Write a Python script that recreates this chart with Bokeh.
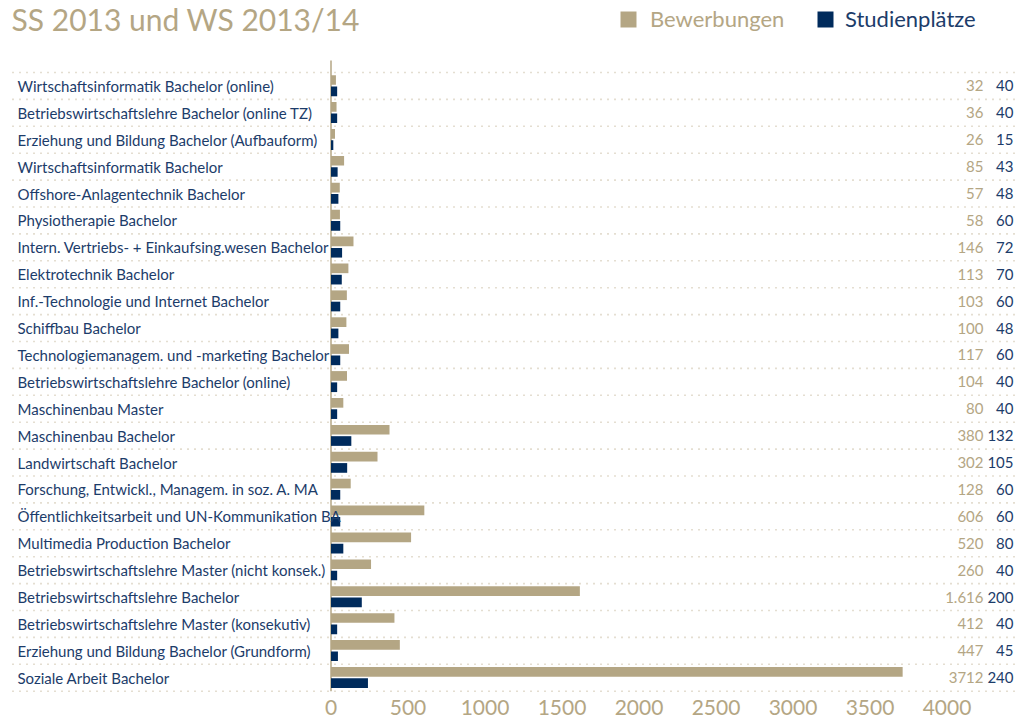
from bokeh.plotting import figure
from bokeh.models import Range1d, FixedTicker, Legend, LegendItem, ColumnDataSource
from bokeh.core.properties import value
from bokeh.transform import dodge
from bokeh.embed import file_html
from bokeh.resources import INLINE

# ---------------- data ----------------
programmes = [
    "Wirtschaftsinformatik Bachelor (online)",
    "Betriebswirtschaftslehre Bachelor (online TZ)",
    "Erziehung und Bildung Bachelor (Aufbauform)",
    "Wirtschaftsinformatik Bachelor",
    "Offshore-Anlagentechnik Bachelor",
    "Physiotherapie Bachelor",
    "Intern. Vertriebs- + Einkaufsing.wesen Bachelor",
    "Elektrotechnik Bachelor",
    "Inf.-Technologie und Internet Bachelor",
    "Schiffbau Bachelor",
    "Technologiemanagem. und -marketing Bachelor",
    "Betriebswirtschaftslehre Bachelor (online)",
    "Maschinenbau Master",
    "Maschinenbau Bachelor",
    "Landwirtschaft Bachelor",
    "Forschung, Entwickl., Managem. in soz. A. MA",
    "Öffentlichkeitsarbeit und UN-Kommunikation BA",
    "Multimedia Production Bachelor",
    "Betriebswirtschaftslehre Master (nicht konsek.)",
    "Betriebswirtschaftslehre Bachelor",
    "Betriebswirtschaftslehre Master (konsekutiv)",
    "Erziehung und Bildung Bachelor (Grundform)",
    "Soziale Arbeit Bachelor",
]
bewerbungen = [32, 36, 26, 85, 57, 58, 146, 113, 103, 100, 117, 104, 80,
               380, 302, 128, 606, 520, 260, 1616, 412, 447, 3712]
studienplaetze = [40, 40, 15, 43, 48, 60, 72, 70, 60, 48, 60, 40, 40,
                  132, 105, 60, 60, 80, 40, 200, 40, 45, 240]
bewerbungen_labels = ["32", "36", "26", "85", "57", "58", "146", "113", "103", "100",
                      "117", "104", "80", "380", "302", "128", "606", "520", "260",
                      "1.616", "412", "447", "3712"]
studienplaetze_labels = [str(v) for v in studienplaetze]
x_ticks = [0, 500, 1000, 1500, 2000, 2500, 3000, 3500, 4000]
title_text = "SS 2013 und WS 2013/14"

# ---------------- styling / layout ----------------
TAN = "#b4a684"
NAVY = "#002b5c"
NAVY_TXT = "#1c3c6a"
DOT = "#c9bda3"
FONT = "Lato"

W, H = 1019, 724
BOTTOM = 31
FH = H - BOTTOM
X0_PX = 330.5          # pixel position of value 0
PX_PER_UNIT = 0.154
ROW0_PX = 72.0         # pixel y of first separator
ROW_PX = 26.9

x_start = -X0_PX / PX_PER_UNIT
x_end = (W - X0_PX) / PX_PER_UNIT
y_top = -ROW0_PX / ROW_PX
y_bot = (FH - ROW0_PX) / ROW_PX

n = len(programmes)
rows = [i + 0.5 for i in range(n)]

src = ColumnDataSource(dict(
    y=rows, name=programmes, bew=bewerbungen, stu=studienplaetze,
    bew_lab=bewerbungen_labels, stu_lab=studienplaetze_labels,
    xs=[x_start] * n, xe=[x_end] * n,
))

p = figure(width=W, height=H, output_backend="svg", toolbar_location=None,
           x_range=Range1d(x_start, x_end), y_range=Range1d(y_bot, y_top),
           y_axis_location=None, min_border=0, min_border_bottom=BOTTOM,
           outline_line_color=None)
p.grid.visible = False

# dotted separators
sep_y = list(range(n + 1))
p.segment(x0=[x_start + 12 / PX_PER_UNIT] * len(sep_y), x1=[x_end] * len(sep_y),
          y0=sep_y, y1=sep_y, line_color=DOT, line_width=1.6, line_dash="1 6")

# vertical base line
p.segment(x0=[0], x1=[0], y0=[-0.45], y1=[n], line_color=TAN, line_width=1.5)

r_bew = p.hbar(y=dodge("y", -0.22, range=p.y_range), right="bew", left=0, height=0.36,
               source=src, fill_color=TAN, line_color=None)
r_stu = p.hbar(y=dodge("y", 0.2, range=p.y_range), right="stu", left=0, height=0.36,
               source=src, fill_color=NAVY, line_color=None)

# category labels
p.text(x="xs", y="y", text="name", source=src, x_offset=17, text_baseline="middle",
       text_align="left", text_font=value(FONT), text_font_size="15px",
       text_color=NAVY_TXT)
# value columns
p.text(x="xe", y="y", text="bew_lab", source=src, x_offset=-36, text_baseline="middle",
       text_align="right", text_font=value(FONT), text_font_size="15px",
       text_color=TAN)
p.text(x="xe", y="y", text="stu_lab", source=src, x_offset=-6, text_baseline="middle",
       text_align="right", text_font=value(FONT), text_font_size="15px",
       text_color=NAVY_TXT)

# title
p.text(x=[x_start], y=[y_top], text=[title_text], x_offset=11, y_offset=0,
       text_baseline="top", text_align="left", text_font=value(FONT),
       text_font_size="30px", text_color=TAN)

# legends
leg1 = Legend(items=[LegendItem(label="Bewerbungen", renderers=[r_bew])],
              location=(618, FH - 32), orientation="horizontal")
leg2 = Legend(items=[LegendItem(label="Studienplätze", renderers=[r_stu])],
              location=(815, FH - 32), orientation="horizontal")
for lg, col, so in ((leg1, TAN, 12), (leg2, NAVY_TXT, 10)):
    lg.glyph_width = 20
    lg.glyph_height = 20
    lg.label_standoff = so
    lg.padding = 0
    lg.margin = 0
    lg.border_line_color = None
    lg.background_fill_alpha = 0
    lg.label_text_font = FONT
    lg.label_text_font_size = "22px"
    lg.label_text_color = col
    lg.label_height = 20
    p.add_layout(lg, "center")

# x axis
ax = p.xaxis[0]
ax.ticker = FixedTicker(ticks=x_ticks)
ax.axis_line_color = None
ax.major_tick_line_color = None
ax.minor_tick_line_color = None
ax.major_tick_out = 0
ax.major_tick_in = 0
ax.major_label_standoff = 6
ax.major_label_text_font = FONT
ax.major_label_text_font_size = "21px"
ax.major_label_text_color = TAN

open("out.html", "w").write(file_html(p, INLINE))
